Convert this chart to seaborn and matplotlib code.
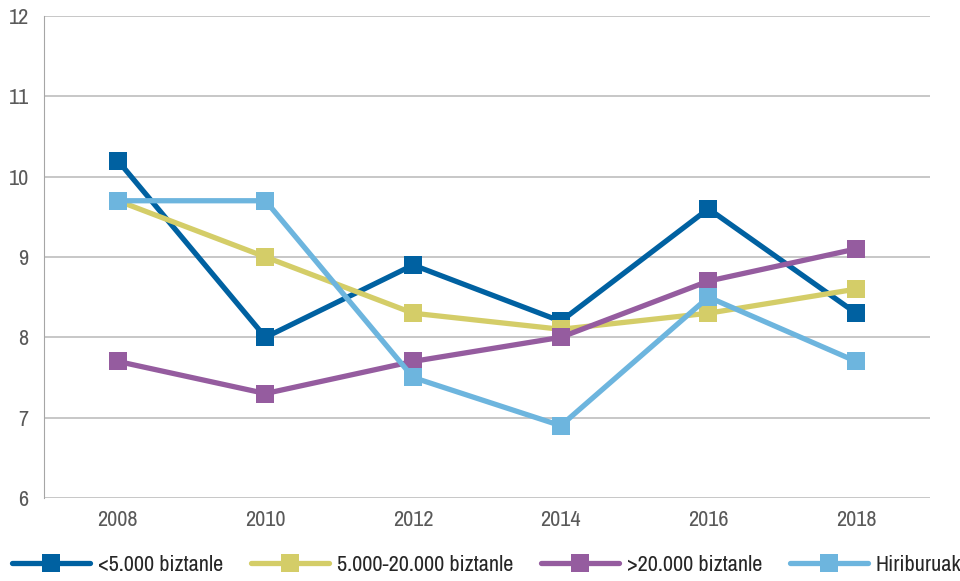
import pandas as pd
import matplotlib.pyplot as plt
import seaborn as sns

# data
years = ["2008", "2010", "2012", "2014", "2016", "2018"]
lt5000 = [10.2, 8.0, 8.9, 8.2, 9.6, 8.3]
mid = [9.7, 9.0, 8.3, 8.1, 8.3, 8.6]
gt20000 = [7.7, 7.3, 7.7, 8.0, 8.7, 9.1]
hiriburuak = [9.7, 9.7, 7.5, 6.9, 8.5, 7.7]

series = ["<5.000 biztanle", "5.000-20.000 biztanle", ">20.000 biztanle", "Hiriburuak"]
colors = ["#0061a1", "#d4cd68", "#955c9f", "#6db5de"]

df = pd.concat([
    pd.DataFrame({"urtea": years, "balioa": vals, "taldea": name})
    for name, vals in zip(series, [lt5000, mid, gt20000, hiriburuak])
], ignore_index=True)

sns.set_style("white")
plt.rcParams['font.family'] = ['Archivo Narrow', 'Roboto Condensed', 'DejaVu Sans']

fig = plt.figure(figsize=(9.6, 5.81), dpi=100)
ax = fig.add_axes([0.0458, 0.1429, 0.9229, 0.8296])

sns.lineplot(data=df, x="urtea", y="balioa", hue="taldea", hue_order=series,
             palette=colors, style="taldea", markers=["s"] * 4, dashes=False,
             linewidth=3.8, markersize=12.5, markeredgewidth=0, ax=ax, legend=True)

ax.set_xlim(-0.5, 5.5)
ax.set_ylim(6, 12)
ax.set_yticks(range(6, 13))
ax.yaxis.grid(True, color="#bdbdbd", linewidth=1.2)
ax.set_axisbelow(True)
for s in ["top", "right", "bottom"]:
    ax.spines[s].set_visible(False)
ax.spines["left"].set_color("#a6a6a6")
ax.tick_params(axis="both", length=0, labelsize=16, labelcolor="#595959")
ax.tick_params(axis="x", pad=9)
ax.tick_params(axis="y", pad=11)
ax.set_xlabel("")
ax.set_ylabel("")

handles, labels = ax.get_legend_handles_labels()
ax.get_legend().remove()
fig.legend(handles, labels, loc="center left", bbox_to_anchor=(0.006, 0.028), ncol=4,
           frameon=False, fontsize=16, handlelength=3.5, columnspacing=1.25,
           handletextpad=0.36, borderaxespad=0, borderpad=0.3)

plt.savefig("out.png", dpi=100)
